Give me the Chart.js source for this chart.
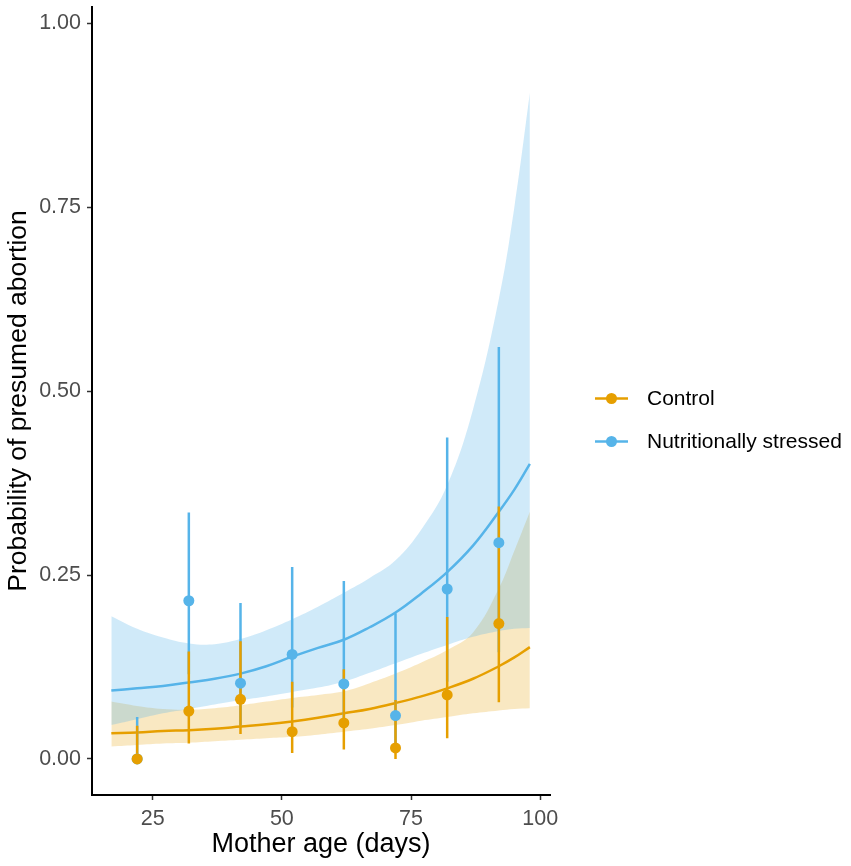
<!DOCTYPE html>
<html>
<head>
<meta charset="utf-8">
<title>Probability of presumed abortion by mother age</title>
<script src="https://cdn.jsdelivr.net/npm/chart.js@4.4.1/dist/chart.umd.min.js"></script>
<style>
  html, body { margin: 0; padding: 0; background: #ffffff; }
  #wrap { width: 851px; height: 866px; position: relative; }
</style>
</head>
<body>
<div id="wrap"><canvas id="abortionChart"></canvas></div>
<script>
// Fitted curve ages (days)
const fitAges = [17, 22, 27, 32, 37, 42, 47, 52, 57, 62, 67, 72, 77, 82, 87, 92, 95, 98];

// Control: fitted probability and confidence ribbon
const controlFit   = [0.035, 0.036, 0.038, 0.039, 0.041, 0.044, 0.047, 0.051, 0.056, 0.062, 0.068, 0.076, 0.085, 0.096, 0.109, 0.126, 0.138, 0.152];
const controlLower = [0.017, 0.019, 0.021, 0.022, 0.024, 0.026, 0.028, 0.030, 0.033, 0.037, 0.041, 0.046, 0.052, 0.057, 0.062, 0.066, 0.068, 0.069];
const controlUpper = [0.078, 0.072, 0.068, 0.067, 0.069, 0.073, 0.078, 0.083, 0.087, 0.092, 0.103, 0.116, 0.131, 0.148, 0.172, 0.232, 0.283, 0.336];

// Nutritionally stressed: fitted probability and confidence ribbon
const stressedFit   = [0.093, 0.096, 0.099, 0.104, 0.109, 0.116, 0.126, 0.139, 0.151, 0.162, 0.179, 0.199, 0.225, 0.254, 0.290, 0.336, 0.366, 0.401];
const stressedLower = [0.046, 0.054, 0.062, 0.068, 0.074, 0.080, 0.085, 0.091, 0.097, 0.105, 0.117, 0.130, 0.143, 0.155, 0.166, 0.174, 0.177, 0.178];
const stressedUpper = [0.194, 0.177, 0.165, 0.157, 0.156, 0.163, 0.175, 0.190, 0.207, 0.226, 0.246, 0.270, 0.312, 0.372, 0.475, 0.625, 0.750, 0.905];

// Observed proportions with intervals, binned by age
const binAges = [22, 32, 42, 52, 62, 72, 82, 92];
const controlObs   = [0.000, 0.065, 0.081, 0.037, 0.049, 0.015, 0.087, 0.184];
const controlObsLo = [0.000, 0.021, 0.034, 0.008, 0.013, 0.000, 0.028, 0.077];
const controlObsHi = [0.045, 0.146, 0.160, 0.105, 0.122, 0.080, 0.193, 0.343];
const stressedObs   = [0.000, 0.215, 0.103, 0.142, 0.102, 0.059, 0.231, 0.294];
const stressedObsLo = [0.000, 0.115, 0.045, 0.070, 0.045, 0.015, 0.105, 0.145];
const stressedObsHi = [0.057, 0.335, 0.212, 0.261, 0.242, 0.198, 0.437, 0.560];

const xTicks = [25, 50, 75, 100];
const yTicks = [0, 0.25, 0.5, 0.75, 1];

const groupNames = ['Control', 'Nutritionally stressed'];
const orange = '#E69F00';
const blue = '#56B4E9';
const fontFamily = "'Liberation Sans', Arial, Helvetica, sans-serif";

function xy(xs, ys) {
    return xs.map((x, i) => ({ x: x, y: ys[i] }));
}

// vertical segments separated by gaps
function ranges(xs, lo, hi) {
    const out = [];
    xs.forEach((x, i) => {
        out.push({ x: x, y: lo[i] });
        out.push({ x: x, y: hi[i] });
        out.push({ x: x, y: null });
    });
    return out;
}

function curve(data, color, order, extra) {
    return Object.assign({
        data: data,
        borderColor: color,
        borderWidth: 2.5,
        pointRadius: 0,
        fill: false,
        tension: 0.4,
        order: order
    }, extra || {});
}

// Legend drawn to the right of the panel
const sideLegend = {
    id: 'sideLegend',
    afterDraw(chart) {
        const ctx = chart.ctx;
        const area = chart.chartArea;
        const colors = [orange, blue];
        const x0 = area.right + 45;
        const midY = (area.top + area.bottom) / 2 + 19;
        ctx.save();
        groupNames.forEach((name, i) => {
            const y = midY + (i - 0.5) * 43;
            ctx.strokeStyle = colors[i];
            ctx.lineWidth = 2.5;
            ctx.beginPath();
            ctx.moveTo(x0, y);
            ctx.lineTo(x0 + 33, y);
            ctx.stroke();
            ctx.fillStyle = colors[i];
            ctx.beginPath();
            ctx.arc(x0 + 16.5, y, 5.5, 0, Math.PI * 2);
            ctx.fill();
            ctx.fillStyle = '#000000';
            ctx.font = '21px ' + fontFamily;
            ctx.textAlign = 'left';
            ctx.textBaseline = 'middle';
            ctx.fillText(name, x0 + 52, y + 1);
        });
        ctx.restore();
    }
};

const rangeStyle = { tension: 0, spanGaps: false, borderCapStyle: 'butt' };

const ctx = document.getElementById('abortionChart');
new Chart(ctx, {
    type: 'line',
    data: {
        datasets: [
            // ribbons
            curve(xy(fitAges, controlUpper), 'rgba(0,0,0,0)', 10, { borderWidth: 0 }),
            curve(xy(fitAges, controlLower), 'rgba(0,0,0,0)', 10, {
                borderWidth: 0, fill: { target: 0 }, backgroundColor: 'rgba(230,159,0,0.24)'
            }),
            curve(xy(fitAges, stressedUpper), 'rgba(0,0,0,0)', 9, { borderWidth: 0 }),
            curve(xy(fitAges, stressedLower), 'rgba(0,0,0,0)', 9, {
                borderWidth: 0, fill: { target: 2 }, backgroundColor: 'rgba(86,180,233,0.28)'
            }),
            // fitted lines
            curve(xy(fitAges, stressedFit), blue, 8),
            curve(xy(fitAges, controlFit), orange, 7),
            // observed intervals
            curve(ranges(binAges, stressedObsLo, stressedObsHi), blue, 6, rangeStyle),
            curve(ranges(binAges, controlObsLo, controlObsHi), orange, 5, rangeStyle),
            // observed points
            {
                data: xy(binAges, stressedObs),
                showLine: false,
                pointRadius: 5.5,
                pointBorderWidth: 0,
                pointBackgroundColor: blue,
                borderColor: blue,
                order: 4
            },
            {
                data: xy(binAges, controlObs),
                showLine: false,
                pointRadius: 5.5,
                pointBorderWidth: 0,
                pointBackgroundColor: orange,
                borderColor: orange,
                order: 3
            }
        ]
    },
    options: {
        responsive: true,
        maintainAspectRatio: false,
        animation: false,
        events: [],
        layout: {
            padding: { left: 0, top: 7, right: 301, bottom: 0 }
        },
        plugins: {
            legend: { display: false },
            tooltip: { enabled: false }
        },
        scales: {
            x: {
                type: 'linear',
                min: 13.26,
                max: 101.9,
                afterBuildTicks: function(scale) {
                    scale.ticks = xTicks.map(v => ({ value: v }));
                },
                afterFit: function(scale) {
                    scale.height = 71;
                    scale.paddingLeft = 0;
                    scale.paddingRight = 0;
                },
                grid: {
                    drawOnChartArea: false,
                    drawTicks: true,
                    tickLength: 5,
                    tickWidth: 1.5,
                    tickColor: '#333333'
                },
                border: { display: true, color: '#000000', width: 2 },
                ticks: {
                    color: '#4D4D4D',
                    padding: 6,
                    maxRotation: 0,
                    font: { family: fontFamily, size: 21.5 },
                    callback: function(value) { return value; }
                },
                title: {
                    display: true,
                    text: 'Mother age (days)',
                    color: '#000000',
                    font: { family: fontFamily, size: 27 },
                    padding: { top: 2, bottom: 5 }
                }
            },
            y: {
                type: 'linear',
                min: -0.049,
                max: 1.022,
                afterBuildTicks: function(scale) {
                    scale.ticks = yTicks.map(v => ({ value: v }));
                },
                afterFit: function(scale) {
                    scale.width = 92;
                    scale.paddingTop = 0;
                    scale.paddingBottom = 0;
                },
                grid: {
                    drawOnChartArea: false,
                    drawTicks: true,
                    tickLength: 5,
                    tickWidth: 1.5,
                    tickColor: '#333333'
                },
                border: { display: true, color: '#000000', width: 2 },
                ticks: {
                    color: '#4D4D4D',
                    padding: 6,
                    font: { family: fontFamily, size: 21.5 },
                    callback: function(value) { return Number(value).toFixed(2); }
                },
                title: {
                    display: true,
                    text: 'Probability of presumed abortion',
                    color: '#000000',
                    font: { family: fontFamily, size: 26.5 },
                    padding: { top: 3, bottom: 4 }
                }
            }
        }
    },
    plugins: [sideLegend]
});
</script>
</body>
</html>
